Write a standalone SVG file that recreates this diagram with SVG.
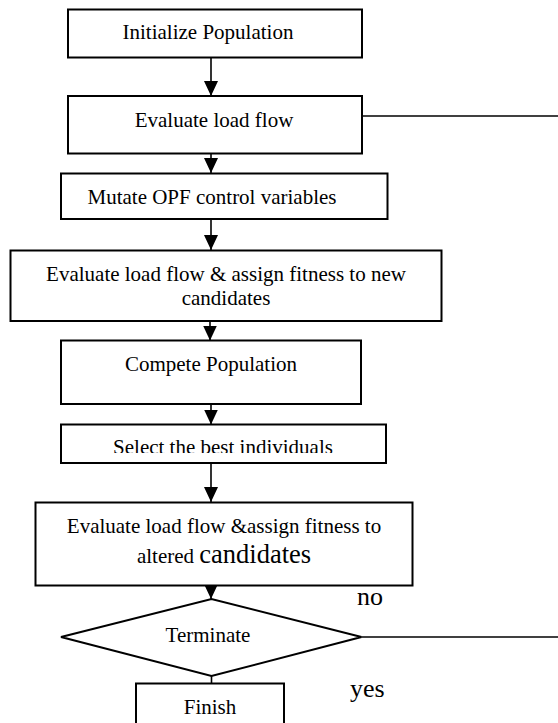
<svg xmlns="http://www.w3.org/2000/svg" width="558" height="723" viewBox="0 0 558 723">
  <style>
    .box { fill: #ffffff; stroke: #000000; stroke-width: 2; }
    .lbl { font-family: "Liberation Serif", "Times New Roman", serif; font-size: 21px; fill: #000000; text-anchor: middle; }
    .big { font-family: "Liberation Serif", "Times New Roman", serif; font-size: 26px; fill: #000000; }
    .conn { fill: none; stroke: #000000; stroke-width: 1.6; }
  </style>
  <defs>
    <marker id="arrow" markerUnits="userSpaceOnUse" markerWidth="15" markerHeight="14" refX="15" refY="7" orient="auto">
      <path d="M0,0 L15,7 L0,14 Z" fill="#000000"/>
    </marker>
    <clipPath id="clipSel">
      <rect x="61" y="424" width="326" height="29"/>
    </clipPath>
  </defs>
  <rect width="558" height="723" fill="#ffffff"/>

  <g id="connectors">
    <line class="conn" x1="211" y1="58" x2="211" y2="96" marker-end="url(#arrow)"/>
    <line class="conn" x1="211" y1="154" x2="211" y2="173" marker-end="url(#arrow)"/>
    <line class="conn" x1="211" y1="219" x2="211" y2="250" marker-end="url(#arrow)"/>
    <line class="conn" x1="210" y1="321" x2="210" y2="340.5" marker-end="url(#arrow)"/>
    <line class="conn" x1="211" y1="404" x2="211" y2="424.5" marker-end="url(#arrow)"/>
    <line class="conn" x1="211" y1="463" x2="211" y2="502" marker-end="url(#arrow)"/>
    <line class="conn" x1="211" y1="584" x2="211" y2="599" marker-end="url(#arrow)"/>
    <line class="conn" x1="211.5" y1="676" x2="211.5" y2="683"/>
    <line class="conn" x1="362" y1="116" x2="558" y2="116"/>
    <line class="conn" x1="361.5" y1="637" x2="558" y2="637"/>
  </g>

  <g id="n1">
    <rect class="box" x="68" y="9.5" width="294" height="48"/>
    <text class="lbl" x="208" y="39">Initialize Population</text>
  </g>
  <g id="n2">
    <rect class="box" x="68" y="96" width="294" height="57.5"/>
    <text class="lbl" x="214" y="127">Evaluate load flow</text>
  </g>
  <g id="n3">
    <rect class="box" x="61" y="173.5" width="326.5" height="45.5"/>
    <text class="lbl" x="212" y="204">Mutate OPF control variables</text>
  </g>
  <g id="n4">
    <rect class="box" x="10.5" y="250.5" width="431" height="70.5"/>
    <text class="lbl" x="226" y="281">Evaluate load flow &amp; assign fitness to new</text>
    <text class="lbl" x="226" y="305">candidates</text>
  </g>
  <g id="n5">
    <rect class="box" x="61" y="340.5" width="300" height="63.5"/>
    <text class="lbl" x="211" y="370.5">Compete Population</text>
  </g>
  <g id="n6">
    <rect class="box" x="61" y="424.5" width="325" height="38.5"/>
    <text class="lbl" x="223" y="454" clip-path="url(#clipSel)">Select the best individuals</text>
  </g>
  <g id="n7">
    <rect class="box" x="35.5" y="502.5" width="377" height="83"/>
    <text class="lbl" x="224" y="533">Evaluate load flow &amp;assign fitness to</text>
    <text x="224" y="563" style="font-family: 'Liberation Serif', 'Times New Roman', serif; fill: #000; text-anchor: middle;"><tspan font-size="21">altered </tspan><tspan font-size="26.5">candidates</tspan></text>
  </g>
  <g id="n8">
    <polygon class="box" points="61,637 211.5,599 361.5,637 211.5,676"/>
    <text class="lbl" x="208" y="642">Terminate</text>
  </g>
  <g id="n9">
    <rect class="box" x="136" y="683.5" width="148" height="60"/>
    <text class="lbl" x="210" y="714">Finish</text>
  </g>
  <g id="labels">
    <text class="big" x="357" y="605">no</text>
    <text class="big" x="350" y="697">yes</text>
  </g>
</svg>
